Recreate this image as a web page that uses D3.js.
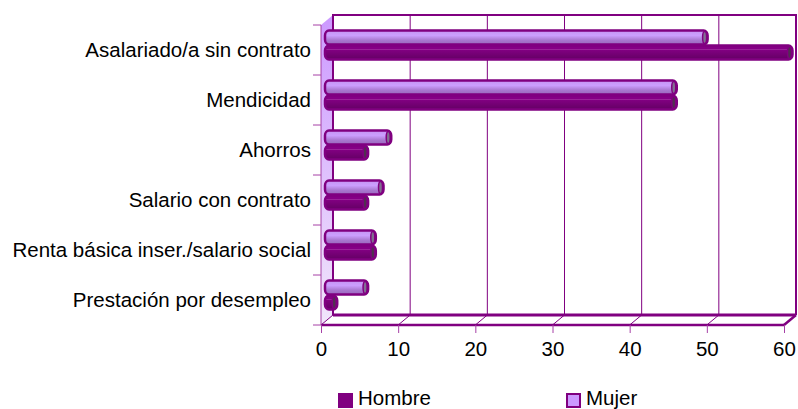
<!DOCTYPE html>
<html>
<head>
<meta charset="utf-8">
<script src="https://cdn.jsdelivr.net/npm/d3@7"></script>
<style>
html, body { margin: 0; padding: 0; background: #fff; }
svg { display: block; }
text { font-family: "Liberation Sans", Arial, sans-serif; fill: #000; }
</style>
</head>
<body>
<svg id="chart" width="798" height="409"></svg>
<script>
var categories = ['Asalariado/a sin contrato', 'Mendicidad', 'Ahorros', 'Salario con contrato', 'Renta básica inser./salario social', 'Prestación por desempleo'];
var hombre = [60, 45, 5, 5, 6, 1];
var mujer = [49, 45, 8, 7, 6, 5];
var x_ticks = [0, 10, 20, 30, 40, 50, 60];
var legend_labels = ['Hombre', 'Mujer'];

var purple = '#800080';
var font_size = 20.5;
var svg = d3.select('#chart');

// front plane of the 3d box, the back wall is shifted by depth
var left = 321, right = 784, top_y = 25, bottom = 325;
var depth_x = 12, depth_y = 10;

var x = d3.scaleLinear().domain([0, 60]).range([left, right]);
var y = d3.scaleBand().domain(categories).range([top_y, bottom]);

var defs = svg.append('defs');
var add_gradient = function(id, stops) {
    var g = defs.append('linearGradient').attr('id', id)
        .attr('x1', 0).attr('y1', 0).attr('x2', 0).attr('y2', 1);
    stops.forEach(function(s) {
        g.append('stop').attr('offset', s[0]).attr('stop-color', s[1]);
    });
};
add_gradient('wall', [[0, '#cc99ff'], [1, '#f1e6fb']]);
add_gradient('bar_mujer', [[0, '#c594f2'], [0.35, '#cc9fff'], [0.7, '#a877cf'], [1, '#9a68bd']]);
add_gradient('bar_hombre', [[0, '#860086'], [0.22, '#860086'], [0.27, '#a030a0'], [0.34, '#800080'], [1, '#640064']]);

// left wall
svg.append('path')
    .attr('d', d3.line()([[left, top_y], [left + depth_x, top_y - depth_y], [left + depth_x, bottom - depth_y], [left, bottom]]) + 'Z')
    .attr('fill', 'url(#wall)')
    .attr('stroke', 'none');

// gridlines on the back wall + slanted floor lines
x_ticks.slice(1).forEach(function(t) {
    svg.append('line')
        .attr('x1', x(t) + depth_x).attr('x2', x(t) + depth_x)
        .attr('y1', top_y - depth_y).attr('y2', bottom - depth_y)
        .attr('stroke', purple).attr('stroke-width', 1);
});
x_ticks.forEach(function(t) {
    svg.append('line')
        .attr('x1', x(t)).attr('x2', x(t) + depth_x)
        .attr('y1', bottom).attr('y2', bottom - depth_y)
        .attr('stroke', purple).attr('stroke-width', 1);
});

// box outline
svg.append('path')
    .attr('d', d3.line()([[left + depth_x, bottom - depth_y], [left + depth_x, top_y - depth_y], [right + depth_x, top_y - depth_y], [right + depth_x, bottom - depth_y]]))
    .attr('fill', 'none').attr('stroke', purple).attr('stroke-width', 2);
svg.append('line')
    .attr('x1', left + depth_x).attr('x2', right + depth_x)
    .attr('y1', bottom - depth_y).attr('y2', bottom - depth_y)
    .attr('stroke', purple).attr('stroke-width', 3);
svg.append('line')
    .attr('x1', right).attr('x2', right + depth_x)
    .attr('y1', bottom).attr('y2', bottom - depth_y)
    .attr('stroke', purple).attr('stroke-width', 2.5);

// axes
var xAxis = d3.axisBottom(x).tickValues(x_ticks).tickSize(8).tickPadding(8);
var gx = svg.append('g').attr('transform', 'translate(0,' + bottom + ')').call(xAxis);
gx.select('path.domain').attr('stroke', purple).attr('stroke-width', 2.5).attr('d', 'M' + left + ',0H' + right);
gx.selectAll('.tick line').attr('stroke', '#a640a6');
gx.selectAll('.tick text').attr('font-size', font_size).style('font-family', '"Liberation Sans", Arial, sans-serif');

var yAxis = d3.axisLeft(y).tickSize(0).tickPadding(10);
var gy = svg.append('g').attr('transform', 'translate(' + left + ',0)').call(yAxis);
gy.select('path.domain').attr('stroke', '#a640a6').attr('d', 'M0,' + top_y + 'V' + bottom);
gy.selectAll('.tick text').attr('font-size', font_size).attr('dy', '0.32em').style('font-family', '"Liberation Sans", Arial, sans-serif');

// category separators on the left side
y.domain().concat([null]).forEach(function(c) {
    var yy = c === null ? bottom : y(c);
    gy.append('line').attr('x1', -8).attr('x2', 0).attr('y1', yy).attr('y2', yy).attr('stroke', '#a640a6');
});

// cylinders: body with rounded ends and a dark cap on the right
var bar_offset = 6;
var draw_cylinder = function(value, top, h, fill, cap) {
    var x0 = x(0) + 4;
    var x1 = x(value) + bar_offset;
    var g = svg.append('g');
    g.append('rect')
        .attr('x', x0).attr('y', top + 0.5)
        .attr('width', x1 + 2.5 - x0).attr('height', h - 1)
        .attr('rx', 4).attr('ry', 5)
        .attr('fill', 'url(#' + fill + ')')
        .attr('stroke', purple).attr('stroke-width', 2.5);
    g.append('ellipse')
        .attr('cx', x1 - 0.5).attr('cy', top + h / 2)
        .attr('rx', 2).attr('ry', h / 2 - 1.5)
        .attr('fill', cap).attr('stroke', purple).attr('stroke-width', 1.5);
};

categories.forEach(function(c, i) {
    var b = y(c);
    draw_cylinder(hombre[i], b + 20, 15, 'bar_hombre', '#503050');
    draw_cylinder(mujer[i], b + 5, 15, 'bar_mujer', '#807090');
});

// legend
var legend_x = d3.scalePoint().domain(legend_labels).range([338, 566]);
var legend_fill = { 'Hombre': purple, 'Mujer': '#cc99ff' };
legend_labels.forEach(function(l) {
    svg.append('rect')
        .attr('x', legend_x(l) + 1).attr('y', 394)
        .attr('width', 13).attr('height', 13)
        .attr('fill', legend_fill[l]).attr('stroke', purple).attr('stroke-width', 2);
    svg.append('text')
        .attr('x', legend_x(l) + 20).attr('y', 404.5)
        .attr('font-size', font_size)
        .text(l);
});
</script>
</body>
</html>
